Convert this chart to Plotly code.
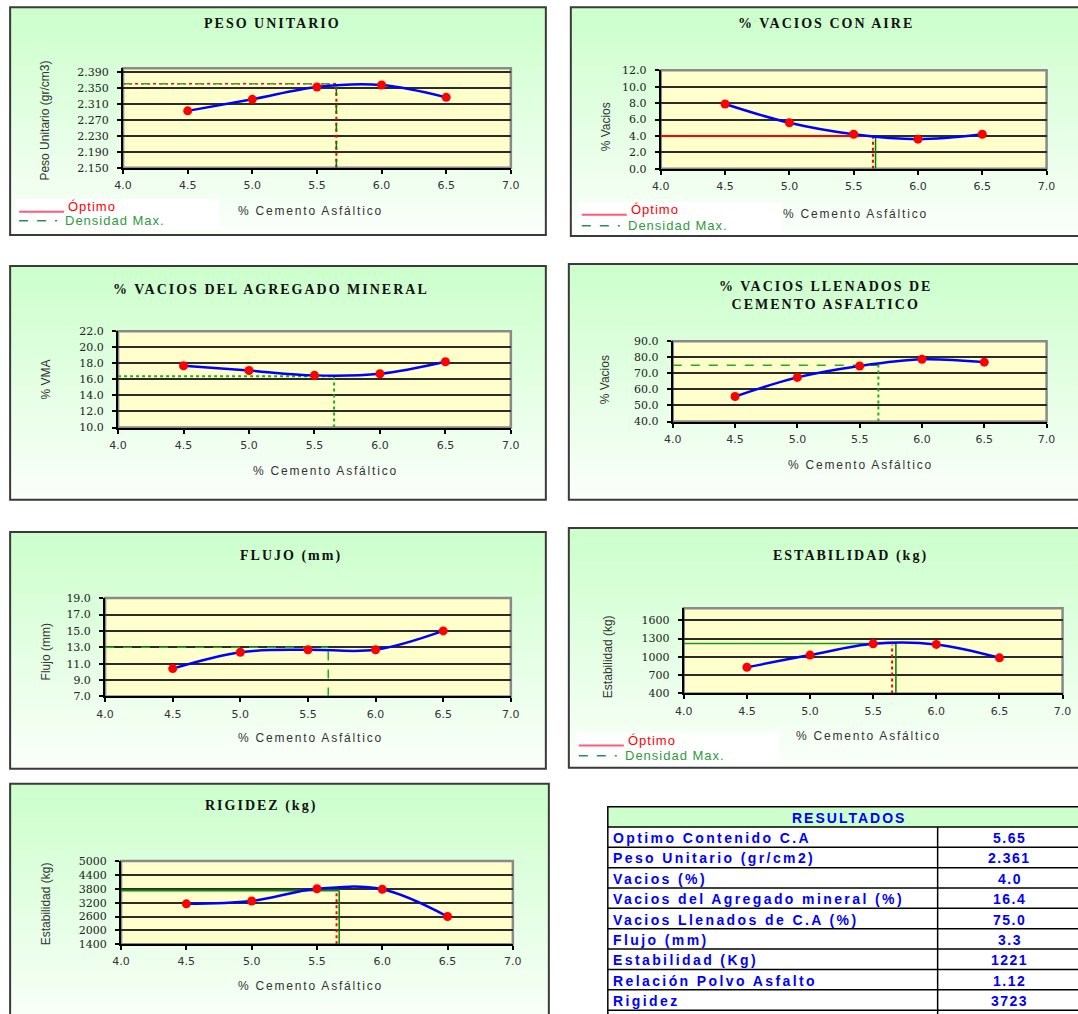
import plotly.graph_objects as go

# página: 8 px de margen del body y escala de captura ~0.984
OFF = 8
K = 1 / 0.984
W, H = 1090, 1026

# % cemento asfáltico ensayado
ca = [4.5, 5.0, 5.5, 6.0, 6.5]

# Resultados Marshall por contenido de asfalto
peso_unitario = [2.293, 2.322, 2.353, 2.358, 2.327]
vacios_aire = [7.9, 5.6, 4.2, 3.6, 4.2]
vma = [17.7, 17.1, 16.5, 16.7, 18.2]
vll = [55.6, 67.5, 74.6, 78.8, 77.0]
flujo = [10.4, 12.4, 12.7, 12.7, 15.0]
estabilidad = [830, 1030, 1215, 1205, 985]
rigidez = [3150, 3270, 3800, 3780, 2600]

# Contenido óptimo y nivel de lectura en cada gráfico
optimo_ca = 5.65
densidad_ca = 5.67
nivel_peso = 2.361
nivel_vacios = 4.0
nivel_vma = 16.4
nivel_vll = 75.0
nivel_flujo = 13.0
nivel_estab = 1221
nivel_rigidez = 3723

# Tabla de resultados
res_labels = ["Optimo Contenido C.A", "Peso Unitario (gr/cm2)", "Vacios (%)",
              "Vacios del Agregado mineral (%)", "Vacios Llenados de C.A (%)",
              "Flujo (mm)", "Estabilidad (Kg)", "Relación Polvo Asfalto", "Rigidez"]
res_values = ["5.65", "2.361", "4.0", "16.4", "75.0", "3.3", "1221", "1.12", "3723"]

RED = "#ff0000"
GREEN = "#008000"
BLUE = "#0000ff"
SERIF = "Liberation Serif"
SANS = "Liberation Sans"


def px(x):
    return (x * K - OFF) / W


def py(y):
    return 1 - (y * K - OFF) / H


def spaced(text, sp):
    return '<span style="letter-spacing:%spx">%s</span>' % (sp, text)


fig = go.Figure()
shapes = []
annotations = []

# box: panel frame (x0, y0, x1, y1); plot: (x_left, y_top, x_right, y_bottom)
panels = [
    dict(title="PESO UNITARIO", tpos=(272, 25), ytitle="Peso Unitario (gr/cm3)", ytpos=(43, 122),
         xtpos=(310, 212), y=peso_unitario, yr=[2.15, 2.40], dtick=0.04, fmt=".3f",
         box=(9, 9, 545, 236), plot=(122, 70, 510, 169), legend=(18, 208, 222)),
    dict(title="% VACIOS CON AIRE", tpos=(825, 25), ytitle="% Vacios", ytpos=(605, 128),
         xtpos=(855, 215), y=vacios_aire, yr=[0, 12], dtick=2, fmt=".1f",
         box=(570, 9, 1095, 237), plot=(660, 72, 1046, 170), legend=(581, 211, 227)),
    dict(title="% VACIOS DEL AGREGADO MINERAL", tpos=(270, 290), ytitle="% VMA", ytpos=(45, 380),
         xtpos=(325, 471), y=vma, yr=[10, 22], dtick=2, fmt=".1f",
         box=(9, 267, 545, 500), plot=(117, 332, 510, 428), legend=None),
    dict(title="% VACIOS LLENADOS DE<br>CEMENTO ASFALTICO", tpos=(825, 296), ytitle="% Vacios", ytpos=(605, 380),
         xtpos=(860, 465), y=vll, yr=[40, 90], dtick=10, fmt=".1f",
         box=(568, 265, 1095, 500), plot=(672, 342, 1046, 422), legend=None),
    dict(title="FLUJO (mm)", tpos=(290, 556), ytitle="Flujo (mm)", ytpos=(45, 652),
         xtpos=(310, 737), y=flujo, yr=[7, 19], dtick=2, fmt=".1f",
         box=(9, 532, 545, 768), plot=(104, 598, 510, 696), legend=None),
    dict(title="ESTABILIDAD (kg)", tpos=(850, 556), ytitle="Estabilidad (kg)", ytpos=(608, 656),
         xtpos=(868, 735), y=estabilidad, yr=[400, 1800], dtick=300, fmt="d",
         box=(568, 528, 1095, 767), plot=(683, 608, 1062, 693), legend=(578, 740, 755)),
    dict(title="RIGIDEZ (kg)", tpos=(260, 805), ytitle="Estabilidad (kg)", ytpos=(45, 903),
         xtpos=(310, 985), y=rigidez, yr=[1400, 5000], dtick=600, fmt="d",
         box=(9, 783, 548, 1030), plot=(120, 860, 512, 943), legend=None),
]

# niveles de referencia por gráfico: (líneas horizontales, líneas verticales)
ref_lines = [
    # Peso unitario
    ([(nivel_peso, optimo_ca, RED, "dot", 1.5), (nivel_peso, optimo_ca, "#6b8e23", "dash", 1.5)],
     [(optimo_ca, nivel_peso, RED, "dot", 2), (optimo_ca, nivel_peso, GREEN, "dash", 1.5)]),
    # Vacios con aire
    ([(nivel_vacios, optimo_ca, RED, "solid", 2)],
     [(optimo_ca, nivel_vacios, RED, "dot", 2), (densidad_ca, nivel_vacios, GREEN, "solid", 1.5)]),
    # VMA
    ([(nivel_vma, optimo_ca, "#22aa22", "dot", 2)],
     [(optimo_ca, nivel_vma, "#22aa22", "dot", 2)]),
    # VLL
    ([(nivel_vll, optimo_ca, "#22aa22", "dash", 1.5)],
     [(optimo_ca, nivel_vll, "#22aa22", "dot", 2)]),
    # Flujo
    ([(nivel_flujo, optimo_ca, "#22aa22", "dash", 1.5)],
     [(optimo_ca, nivel_flujo, "#22aa22", "dash", 1.5)]),
    # Estabilidad
    ([(nivel_estab, densidad_ca + 0.01, "#11991a", "solid", 1.5)],
     [(optimo_ca, nivel_estab - 25, RED, "dot", 2), (densidad_ca + 0.01, nivel_estab, GREEN, "solid", 1.5)]),
    # Rigidez
    ([(nivel_rigidez, densidad_ca, "#118811", "solid", 2)],
     [(optimo_ca, nivel_rigidez, RED, "dot", 2), (densidad_ca, nivel_rigidez, GREEN, "solid", 1.5)]),
]


def mix(c0, c1, t):
    return "rgb(%d,%d,%d)" % tuple(round(a + (b - a) * t) for a, b in zip(c0, c1))


layout_axes = {}
for i, p in enumerate(panels, start=1):
    xa = "x" if i == 1 else f"x{i}"
    ya = "y" if i == 1 else f"y{i}"
    bx0, by0, bx1, by1 = p["box"]
    lx, ty, rx, byy = p["plot"]

    # fondo degradado verde del panel
    n = 28
    for k in range(n):
        y0 = by0 + (by1 - by0) * k / n
        y1 = by0 + (by1 - by0) * (k + 1) / n + 0.6
        shapes.append(dict(type="rect", xref="paper", yref="paper", layer="below",
                           x0=px(bx0), x1=px(bx1), y0=py(y1), y1=py(y0),
                           fillcolor=mix((204, 255, 204), (250, 255, 250), k / (n - 1)),
                           line=dict(width=0)))
    # marco del panel
    shapes.append(dict(type="rect", xref="paper", yref="paper", layer="below",
                       x0=px(bx0), x1=px(bx1), y0=py(by1), y1=py(by0),
                       line=dict(color="#3a3a3a", width=2), fillcolor="rgba(0,0,0,0)"))
    # recuadro de leyenda
    if p["legend"]:
        lgx, lgy1, lgy2 = p["legend"]
        shapes.append(dict(type="rect", xref="paper", yref="paper", layer="below",
                           x0=px(lgx - 3), x1=px(lgx + 200), y0=py(lgy2 + 9), y1=py(lgy1 - 8),
                           fillcolor="white", line=dict(width=0)))
        shapes.append(dict(type="line", xref="paper", yref="paper",
                           x0=px(lgx), x1=px(lgx + 45), y0=py(lgy1 + 5), y1=py(lgy1 + 5),
                           line=dict(color="#ff5a7a", width=2)))
        shapes.append(dict(type="line", xref="paper", yref="paper",
                           x0=px(lgx), x1=px(lgx + 38), y0=py(lgy2), y1=py(lgy2),
                           line=dict(color="#2e8b57", width=1.5, dash="dash")))
        annotations.append(dict(text=spaced("Óptimo", 1), xref="paper", yref="paper",
                                x=px(lgx + 47), y=py(lgy1),
                                xanchor="left", yanchor="middle", showarrow=False,
                                font=dict(family=SANS, size=13, color=RED)))
        annotations.append(dict(text=spaced("Densidad Max.", 1), xref="paper", yref="paper",
                                x=px(lgx + 44), y=py(lgy2),
                                xanchor="left", yanchor="middle", showarrow=False,
                                font=dict(family=SANS, size=13, color="#2e9b3e")))
    # área de trazado amarilla
    shapes.append(dict(type="rect", xref="paper", yref="paper", layer="below",
                       x0=px(lx), x1=px(rx), y0=py(byy), y1=py(ty),
                       fillcolor="#ffffcc", line=dict(color="#8a8a8a", width=2.5)))

    layout_axes["xaxis" if i == 1 else f"xaxis{i}"] = dict(
        domain=[px(lx), px(rx)], anchor=ya, range=[4.0, 7.0], dtick=0.5, tick0=4.0,
        tickformat=".1f", showgrid=False, zeroline=False, showline=True, linecolor="black",
        linewidth=2, ticks="outside", ticklen=4, tickcolor="black", tickwidth=1.5,
        ticklabelstandoff=2,
        tickfont=dict(family="DejaVu Sans", size=11, color="#333"), fixedrange=True)
    layout_axes["yaxis" if i == 1 else f"yaxis{i}"] = dict(
        domain=[py(byy), py(ty)], anchor=xa, range=p["yr"], dtick=p["dtick"], tick0=p["yr"][0],
        tickformat=p["fmt"], showgrid=True, gridcolor="#2b2b2b", gridwidth=2, zeroline=False,
        showline=True, linecolor="black", linewidth=2, ticks="outside", ticklen=4,
        tickcolor="black", tickwidth=1.5, ticklabelstandoff=6,
        tickfont=dict(family="DejaVu Serif", size=11, color="#222"),
        fixedrange=True)

    # títulos
    title_txt = "<br>".join(spaced(t, 2) for t in p["title"].split("<br>"))
    annotations.append(dict(text="<b>" + title_txt + "</b>", xref="paper", yref="paper",
                            x=px(p["tpos"][0]), y=py(p["tpos"][1]), showarrow=False,
                            xanchor="center", yanchor="middle",
                            font=dict(family=SERIF, size=14, color="#111")))
    annotations.append(dict(text=p["ytitle"], xref="paper", yref="paper", textangle=-90,
                            x=px(p["ytpos"][0]), y=py(p["ytpos"][1]), showarrow=False,
                            xanchor="center", yanchor="middle",
                            font=dict(family=SANS, size=12, color="#333")))
    annotations.append(dict(text=spaced("% Cemento Asfáltico", 1.8), xref="paper", yref="paper",
                            x=px(p["xtpos"][0]), y=py(p["xtpos"][1]), showarrow=False,
                            xanchor="center", yanchor="middle",
                            font=dict(family=SANS, size=12, color="#333")))

    # líneas de lectura del óptimo
    hl, vl = ref_lines[i - 1]
    for lvl, xend, col, dash, wd in hl:
        fig.add_trace(go.Scatter(x=[4.0, xend], y=[lvl, lvl], mode="lines", xaxis=xa, yaxis=ya,
                                 line=dict(color=col, dash=dash, width=wd), hoverinfo="skip",
                                 showlegend=False))
    for xv, ytop, col, dash, wd in vl:
        fig.add_trace(go.Scatter(x=[xv, xv], y=[p["yr"][0], ytop], mode="lines", xaxis=xa, yaxis=ya,
                                 line=dict(color=col, dash=dash, width=wd), hoverinfo="skip",
                                 showlegend=False))

    # curva suavizada con puntos de ensayo
    fig.add_trace(go.Scatter(x=ca, y=p["y"], mode="lines+markers", xaxis=xa, yaxis=ya,
                             line=dict(color=BLUE, width=2.5, shape="spline", smoothing=1.0),
                             marker=dict(color=RED, size=9), showlegend=False))

# Tabla de resultados
tx0, tx1, tdiv = 607, 1095, 937
ty0, thead = 806, 826
row_h = 20.3
shapes.append(dict(type="rect", xref="paper", yref="paper", x0=px(tx0), x1=px(tx1),
                   y0=py(thead), y1=py(ty0), fillcolor="#ccffcc", line=dict(color="black", width=1.5)))
annotations.append(dict(text="<b>" + spaced("RESULTADOS", 2) + "</b>", xref="paper", yref="paper",
                        x=px(848), y=py((ty0 + thead) / 2 + 1), showarrow=False,
                        xanchor="center", yanchor="middle",
                        font=dict(family=SANS, size=14, color=BLUE)))
n_rows = len(res_labels)
bottom = thead + row_h * n_rows
shapes.append(dict(type="line", xref="paper", yref="paper", x0=px(tx0), x1=px(tx0),
                   y0=py(bottom + 6), y1=py(thead), line=dict(color="black", width=1.5)))
shapes.append(dict(type="line", xref="paper", yref="paper", x0=px(tdiv), x1=px(tdiv),
                   y0=py(bottom + 6), y1=py(thead), line=dict(color="black", width=1.5)))
for r, (lab, val) in enumerate(zip(res_labels, res_values)):
    yb = thead + row_h * (r + 1)
    shapes.append(dict(type="line", xref="paper", yref="paper", x0=px(tx0), x1=px(tx1),
                       y0=py(yb), y1=py(yb), line=dict(color="black", width=1.5)))
    yc = thead + row_h * (r + 0.5)
    annotations.append(dict(text="<b>" + spaced(lab, 2.4) + "</b>", xref="paper", yref="paper",
                            x=px(tx0 + 3), y=py(yc + 1), xanchor="left", yanchor="middle",
                            showarrow=False, font=dict(family=SANS, size=14, color=BLUE)))
    annotations.append(dict(text="<b>" + spaced(val, 1.5) + "</b>", xref="paper", yref="paper",
                            x=px(1009), y=py(yc + 1), xanchor="center", yanchor="middle",
                            showarrow=False, font=dict(family=SANS, size=14, color=BLUE)))

fig.update_layout(width=W, height=H, margin=dict(l=0, r=0, t=0, b=0),
                  paper_bgcolor="white", plot_bgcolor="rgba(0,0,0,0)",
                  showlegend=False, shapes=shapes, annotations=annotations, **layout_axes)

fig.write_html("out.html", config={"displayModeBar": False})
